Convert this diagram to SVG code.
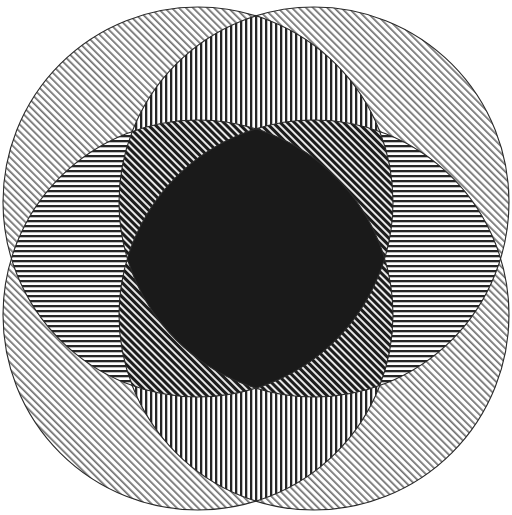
<svg xmlns="http://www.w3.org/2000/svg" width="512" height="515" viewBox="0 0 512 515">
  <defs>
    <clipPath id="kTL"><circle cx="198" cy="202" r="195"/></clipPath>
    <clipPath id="kTR"><circle cx="314" cy="202" r="195"/></clipPath>
    <clipPath id="kBL"><circle cx="198" cy="315" r="195"/></clipPath>
    <clipPath id="kBR"><circle cx="314" cy="315" r="195"/></clipPath>
    <pattern id="pLight" width="5" height="5" patternUnits="userSpaceOnUse" patternTransform="rotate(-45)">
      <rect width="5" height="5" fill="#fff"/>
      <rect width="1.7" height="5" fill="#707070"/>
    </pattern>
    <pattern id="pVert" width="5" height="5" patternUnits="userSpaceOnUse">
      <rect width="5" height="5" fill="#fff"/>
      <rect width="2.3" height="5" fill="#262626"/>
    </pattern>
    <pattern id="pHoriz" width="5" height="5" patternUnits="userSpaceOnUse">
      <rect width="5" height="5" fill="#fff"/>
      <rect width="5" height="2.3" fill="#262626"/>
    </pattern>
    <pattern id="pDark" width="5" height="5" patternUnits="userSpaceOnUse" patternTransform="rotate(-45)">
      <rect width="5" height="5" fill="#e8e8e8"/>
      <rect width="3" height="5" fill="#1c1c1c"/>
    </pattern>
  </defs>
  <style>
    .outline { fill: none; stroke: #2a2a2a; stroke-width: 1.1; }
  </style>
  <rect width="512" height="515" fill="#fff"/>

  <!-- single coverage -->
  <g id="single" fill="url(#pLight)">
    <circle cx="198" cy="202" r="195"/>
    <circle cx="314" cy="202" r="195"/>
    <circle cx="198" cy="315" r="195"/>
    <circle cx="314" cy="315" r="195"/>
  </g>

  <!-- double coverage -->
  <g id="double">
    <g clip-path="url(#kTL)"><rect width="512" height="515" fill="url(#pVert)" clip-path="url(#kTR)"/></g>
    <g clip-path="url(#kBL)"><rect width="512" height="515" fill="url(#pVert)" clip-path="url(#kBR)"/></g>
    <g clip-path="url(#kTL)"><rect width="512" height="515" fill="url(#pHoriz)" clip-path="url(#kBL)"/></g>
    <g clip-path="url(#kTR)"><rect width="512" height="515" fill="url(#pHoriz)" clip-path="url(#kBR)"/></g>
  </g>

  <!-- triple coverage -->
  <g id="triple">
    <g clip-path="url(#kTL)"><g clip-path="url(#kTR)"><rect width="512" height="515" fill="url(#pDark)" clip-path="url(#kBL)"/></g></g>
    <g clip-path="url(#kTL)"><g clip-path="url(#kTR)"><rect width="512" height="515" fill="url(#pDark)" clip-path="url(#kBR)"/></g></g>
    <g clip-path="url(#kTL)"><g clip-path="url(#kBL)"><rect width="512" height="515" fill="url(#pDark)" clip-path="url(#kBR)"/></g></g>
    <g clip-path="url(#kTR)"><g clip-path="url(#kBL)"><rect width="512" height="515" fill="url(#pDark)" clip-path="url(#kBR)"/></g></g>
  </g>

  <!-- quadruple coverage -->
  <g id="quadruple" clip-path="url(#kTL)">
    <g clip-path="url(#kTR)"><g clip-path="url(#kBL)"><rect width="512" height="515" fill="#1a1a1a" clip-path="url(#kBR)"/></g></g>
  </g>

  <!-- outlines -->
  <g id="outlines" class="outline">
    <circle class="outline" cx="198" cy="202" r="195"/>
    <circle class="outline" cx="314" cy="202" r="195"/>
    <circle class="outline" cx="198" cy="315" r="195"/>
    <circle class="outline" cx="314" cy="315" r="195"/>
  </g>
</svg>
